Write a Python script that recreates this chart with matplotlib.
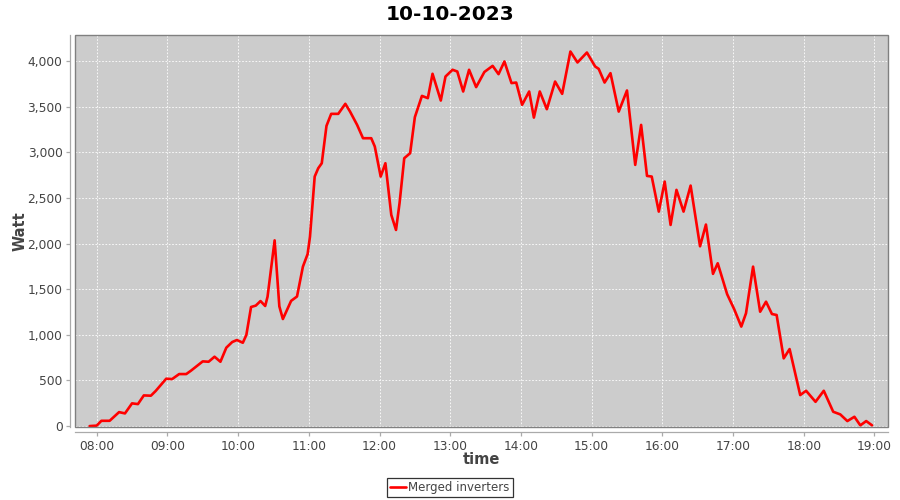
import matplotlib
matplotlib.use("Agg")
import matplotlib.pyplot as plt
import matplotlib.dates as mdates
from matplotlib.patches import Rectangle
from matplotlib.ticker import FuncFormatter
import pandas as pd

title = "10-10-2023"
series_name = "Merged inverters"
x_label = "time"
y_label = "Watt"

times = ["07:54", "08:00", "08:04", "08:11", "08:19", "08:24", "08:30", "08:35", "08:40", "08:46",
         "08:50", "08:59", "09:04", "09:10", "09:16", "09:20", "09:30", "09:35", "09:40", "09:45",
         "09:50", "09:55", "09:59", "10:04", "10:07", "10:11", "10:15", "10:19", "10:23", "10:25",
         "10:31", "10:35", "10:38", "10:45", "10:50", "10:55", "10:59", "11:01", "11:05", "11:08",
         "11:11", "11:15", "11:19", "11:25", "11:31", "11:35", "11:41", "11:46", "11:53", "11:56",
         "12:01", "12:05", "12:10", "12:14", "12:17", "12:21", "12:26", "12:30", "12:36", "12:41",
         "12:45", "12:52", "12:56", "13:02", "13:06", "13:11", "13:16", "13:22", "13:29", "13:36",
         "13:41", "13:46", "13:52", "13:56", "14:01", "14:07", "14:11", "14:16", "14:22", "14:29",
         "14:35", "14:42", "14:48", "14:56", "15:03", "15:06", "15:11", "15:16", "15:23", "15:30",
         "15:37", "15:42", "15:47", "15:51", "15:57", "16:02", "16:07", "16:12", "16:18", "16:24",
         "16:32", "16:37", "16:43", "16:47", "16:55", "17:01", "17:07", "17:11", "17:17", "17:23",
         "17:28", "17:33", "17:37", "17:43", "17:48", "17:57", "18:02", "18:10", "18:17", "18:25",
         "18:31", "18:37", "18:43", "18:48", "18:53", "18:58"]
watts = [0, 5, 58, 58, 153, 139, 249, 241, 336, 333,
         384, 519, 515, 570, 570, 607, 709, 705, 760, 705,
         859, 921, 943, 913, 998, 1305, 1320, 1370, 1316, 1418,
         2035, 1312, 1173, 1372, 1420, 1747, 1885, 2076, 2734, 2825,
         2880, 3289, 3421, 3421, 3531, 3446, 3300, 3154, 3154, 3063,
         2734, 2880, 2314, 2149, 2442, 2935, 2990, 3385, 3618, 3593,
         3860, 3567, 3830, 3904, 3885, 3666, 3904, 3714, 3880, 3947,
         3856, 3995, 3758, 3764, 3520, 3666, 3380, 3666, 3472, 3775,
         3640, 4104, 3984, 4093, 3940, 3914, 3764, 3867, 3446, 3677,
         2862, 3300, 2741, 2734, 2350, 2679, 2204, 2588, 2350, 2635,
         1970, 2208, 1668, 1784, 1445, 1280, 1090, 1236, 1747, 1253,
         1363, 1228, 1217, 742, 844, 340, 387, 266, 387, 157,
         128, 55, 102, 8, 55, 8]
y_ticks = [0, 500, 1000, 1500, 2000, 2500, 3000, 3500, 4000]
x_ticks = ["08:00", "09:00", "10:00", "11:00", "12:00", "13:00", "14:00", "15:00",
           "16:00", "17:00", "18:00", "19:00"]

day = "2023-10-10 "
t = pd.to_datetime([day + s for s in times])
xt = pd.to_datetime([day + s for s in x_ticks])

plt.rcParams['font.family'] = ['DejaVu Sans']
fig = plt.figure(figsize=(9, 5), dpi=100)
fig.patch.set_facecolor("white")

W, H = 900, 500
L, R, T, B = 75, 888, 35, 427
ax = fig.add_axes([L / W, 1 - B / H, (R - L) / W, (B - T) / H])
ax.set_facecolor("#cccccc")

line, = ax.plot(t, watts, color="#ff0000", lw=1.9, solid_joinstyle="round",
                solid_capstyle="round", zorder=3)

ax.set_xlim(pd.Timestamp(day + "07:41:36"), pd.Timestamp(day + "19:11:30"))
ax.set_ylim(-10, 4285)
ax.set_xticks(xt)
ax.xaxis.set_major_formatter(mdates.DateFormatter("%H:%M"))
ax.set_yticks(y_ticks)
ax.yaxis.set_major_formatter(FuncFormatter(lambda v, p: f"{int(v):,}"))

ax.grid(True, color="white", linestyle=(0, (2, 2)), linewidth=0.6)
ax.set_axisbelow(True)

for s in ["top", "right"]:
    ax.spines[s].set_visible(False)
for s in ["left", "bottom"]:
    ax.spines[s].set_position(("outward", 3.5))
    ax.spines[s].set_color("#aaaaaa")
    ax.spines[s].set_linewidth(0.9)
ax.add_patch(Rectangle((0, 0), 1, 1, transform=ax.transAxes, fill=False,
                       edgecolor="#808080", lw=1.0, zorder=5, clip_on=False))

ax.tick_params(axis="both", colors="#aaaaaa", length=3, width=0.9,
               labelcolor="#444444", labelsize=8.8)
ax.tick_params(axis="y", pad=2.5)
ax.tick_params(axis="x", pad=3)

fig.text(0.5, 1 - 14 / H, title, ha="center", va="center", fontsize=14.5,
         fontweight="bold", color="black")
fig.text((L + R) / 2 / W, 1 - 460 / H, x_label, ha="center", va="center",
         fontsize=10.5, fontweight="bold", color="#444444")
fig.text(20.5 / W, 1 - 231 / H, y_label, ha="center", va="center",
         rotation=90, fontsize=10.5, fontweight="bold", color="#444444")

leg = fig.legend([line], [series_name], loc="center", bbox_to_anchor=(0.5, 1 - 487.5 / H),
                 frameon=True, fancybox=False, fontsize=8.5, handlelength=1.3,
                 handletextpad=0.25, borderpad=0.25, borderaxespad=0)
leg.get_frame().set_edgecolor("black")
leg.get_frame().set_linewidth(0.9)
for txt in leg.get_texts():
    txt.set_color("#444444")

fig.savefig("out.png", dpi=100, facecolor="white")
